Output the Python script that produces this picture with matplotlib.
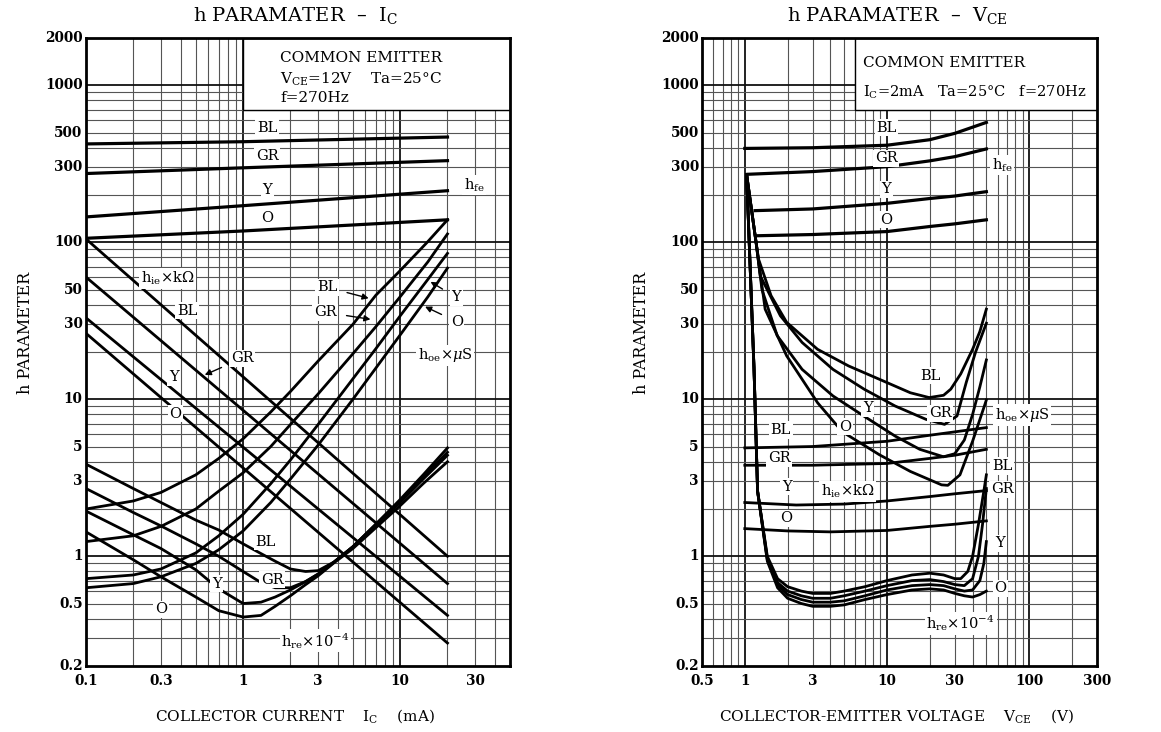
import numpy as np
import matplotlib.pyplot as plt
from matplotlib.patches import Rectangle
from matplotlib.ticker import NullFormatter, LogLocator

plt.rcParams['font.family'] = ['DejaVu Serif']
plt.rcParams['mathtext.fontset'] = 'dejavuserif'

# ---------------- left chart: h parameter vs Ic (Vce=12V) ----------------
ic_hfe = [0.1, 1, 20]
hfe_ic = {'BL': [423, 437, 468], 'GR': [274, 298, 331],
          'Y': [145, 171, 213], 'O': [106, 118, 139]}

ic_hie = [0.1, 20]
hie_ic = {'BL': [105, 1.0], 'GR': [60, 0.67], 'Y': [33, 0.42], 'O': [26.3, 0.28]}

ic_hoe = [0.1, 0.2, 0.3, 0.5, 0.7, 1, 1.5, 2, 3, 5, 7, 10, 15, 20]
hoe_ic = {'BL': [2.0, 2.25, 2.55, 3.3, 4.2, 5.6, 8.3, 11.2, 17.5, 30, 46, 66, 101, 139],
          'GR': [1.24, 1.35, 1.55, 2.0, 2.6, 3.4, 5.0, 6.9, 10.8, 19.5, 29, 45, 75, 113],
          'Y': [0.72, 0.76, 0.83, 1.05, 1.35, 1.85, 2.9, 4.1, 6.9, 13.5, 21, 34, 58, 85],
          'O': [0.63, 0.67, 0.74, 0.9, 1.1, 1.45, 2.2, 3.1, 5.1, 10, 15.8, 25.7, 44.9, 68.5]}

ic_hre = [0.1, 0.2, 0.3, 0.5, 0.7, 1.0, 1.3, 1.6, 2.0, 2.5, 3.0, 3.8, 5, 7, 10, 14, 20]
hre_ic = {'BL': [3.86, 2.7, 2.2, 1.7, 1.47, 1.2, 1.04, 0.93, 0.83, 0.8, 0.81, 0.92, 1.15, 1.6, 2.3, 3.3, 4.9],
          'GR': [2.7, 1.9, 1.56, 1.2, 1.0, 0.8, 0.68, 0.63, 0.63, 0.69, 0.77, 0.92, 1.15, 1.6, 2.25, 3.2, 4.6],
          'Y': [1.94, 1.37, 1.12, 0.82, 0.62, 0.5, 0.51, 0.55, 0.61, 0.69, 0.77, 0.92, 1.15, 1.58, 2.2, 3.1, 4.4],
          'O': [1.43, 0.95, 0.74, 0.55, 0.45, 0.41, 0.42, 0.48, 0.56, 0.66, 0.75, 0.91, 1.12, 1.52, 2.1, 2.9, 4.0]}

# ---------------- right chart: h parameter vs Vce (Ic=2mA) ----------------
vce_hfe = {'BL': [1.0, 3, 10, 20, 30, 50], 'GR': [1.05, 3, 10, 20, 30, 50],
           'Y': [1.18, 3, 10, 20, 30, 50], 'O': [1.2, 3, 10, 20, 30, 50]}
hfe_vce = {'BL': [396, 400, 415, 450, 494, 580], 'GR': [271, 282, 303, 330, 351, 393],
           'Y': [159, 163, 177, 190, 197, 210], 'O': [110, 112, 117, 126, 131, 139]}

vce_hie = {'BL': [1, 3, 10, 20, 30, 50], 'GR': [1, 3, 10, 20, 30, 50],
           'Y': [1, 2.3, 5, 10, 20, 30, 50], 'O': [1, 2, 4, 10, 20, 30, 50]}
hie_vce = {'BL': [4.9, 5.0, 5.4, 5.9, 6.2, 6.6], 'GR': [3.8, 3.8, 3.9, 4.2, 4.4, 4.8],
           'Y': [2.2, 2.12, 2.15, 2.25, 2.4, 2.5, 2.62], 'O': [1.5, 1.45, 1.43, 1.46, 1.55, 1.6, 1.68]}

vce_hoe = {'BL': [1.03, 1.2, 1.25, 1.53, 1.97, 3.25, 5.37, 8.85, 14.6, 19.8, 25, 28.1, 33, 40, 45, 50],
           'GR': [1.03, 1.2, 1.285, 1.78, 2.53, 4.17, 6.9, 11.4, 18.8, 25.4, 31.1, 36.1, 42, 50],
           'Y': [1.03, 1.2, 1.32, 1.69, 2.53, 4.17, 6.9, 11.4, 17, 25, 30, 35, 40, 45, 50],
           'O': [1.03, 1.2, 1.39, 1.97, 3.25, 4.86, 8.85, 14.6, 24.2, 26.8, 32.6, 40, 48.7, 50]}
hoe_vce = {'BL': [270, 100, 78, 45.7, 30.9, 20.8, 16.3, 13.4, 11.0, 10.25, 10.6, 11.6, 14.5, 20.8, 27, 37.5],
           'GR': [270, 100, 61, 34, 23, 15.5, 11.6, 9.06, 7.45, 6.92, 7.83, 12.8, 20, 30.5],
           'Y': [270, 100, 50, 25.4, 15.5, 10.5, 7.8, 5.83, 4.8, 4.3, 4.5, 5.5, 8.0, 12, 17.8],
           'O': [270, 100, 37.5, 18.9, 9.5, 6.2, 4.43, 3.47, 2.85, 2.83, 3.3, 5.4, 9.2, 9.9]}

vce_hre = {'BL': [1.03, 1.16, 1.23, 1.44, 1.7, 2, 2.5, 3, 4, 5, 7, 10, 15, 20, 25, 30, 33, 37, 40, 44, 48, 50],
           'GR': [1.03, 1.16, 1.23, 1.44, 1.7, 2, 2.5, 3, 4, 5, 7, 10, 15, 20, 25, 30, 35, 40, 44, 47, 50],
           'Y': [1.03, 1.16, 1.23, 1.44, 1.7, 2, 2.5, 3, 4, 5, 7, 10, 15, 20, 25, 30, 35, 40, 45, 48, 50],
           'O': [1.03, 1.16, 1.23, 1.44, 1.7, 2, 2.5, 3, 4, 5, 7, 10, 15, 20, 25, 30, 35, 40, 45, 50]}
hre_vce = {'BL': [270, 16, 2.6, 1.0, 0.72, 0.64, 0.6, 0.58, 0.58, 0.6, 0.64, 0.7, 0.76, 0.78, 0.76, 0.72, 0.72, 0.8, 1.0, 1.6, 2.6, 3.3],
           'GR': [270, 16, 2.6, 0.97, 0.68, 0.6, 0.56, 0.54, 0.54, 0.56, 0.6, 0.65, 0.7, 0.71, 0.69, 0.66, 0.65, 0.72, 1.0, 1.6, 2.7],
           'Y': [270, 16, 2.6, 0.95, 0.66, 0.57, 0.53, 0.51, 0.51, 0.52, 0.56, 0.61, 0.65, 0.66, 0.65, 0.62, 0.6, 0.61, 0.7, 0.9, 1.24],
           'O': [270, 16, 2.6, 0.93, 0.63, 0.54, 0.5, 0.48, 0.48, 0.49, 0.53, 0.57, 0.61, 0.62, 0.61, 0.58, 0.56, 0.55, 0.57, 0.6]}

y_ticks = [0.2, 0.5, 1, 3, 5, 10, 30, 50, 100, 300, 500, 1000, 2000]
y_ticklabels = ['0.2', '0.5', '1', '3', '5', '10', '30', '50', '100', '300', '500', '1000', '2000']
x_ticks_l = [0.1, 0.3, 1, 3, 10, 30]
x_ticklabels_l = ['0.1', '0.3', '1', '3', '10', '30']
x_ticks_r = [0.5, 1, 3, 10, 30, 100, 300]
x_ticklabels_r = ['0.5', '1', '3', '10', '30', '100', '300']

LW = 2.0
FS = 10.5
box = dict(facecolor='white', edgecolor='none', pad=1.2)


def setup(ax, xlim, xt, xtl):
    ax.set_xscale('log')
    ax.set_yscale('log')
    ax.set_xlim(*xlim)
    ax.set_ylim(0.2, 2000)
    ax.xaxis.set_major_locator(LogLocator(base=10, numticks=20))
    ax.xaxis.set_minor_locator(LogLocator(base=10, subs=np.arange(2, 10), numticks=50))
    ax.yaxis.set_major_locator(LogLocator(base=10, numticks=20))
    ax.yaxis.set_minor_locator(LogLocator(base=10, subs=np.arange(2, 10), numticks=50))
    for a in (ax.xaxis, ax.yaxis):
        a.set_major_formatter(NullFormatter())
        a.set_minor_formatter(NullFormatter())
    ax.grid(True, which='minor', color='#555555', lw=0.8)
    ax.grid(True, which='major', color='#111111', lw=1.3)
    ax.set_axisbelow(True)
    ax.tick_params(which='both', length=0)
    for s in ax.spines.values():
        s.set_linewidth(2)
    for v, t in zip(y_ticks, y_ticklabels):
        ax.text(-0.008, v, t, transform=ax.get_yaxis_transform(), ha='right', va='center',
                fontsize=9.8, fontweight='bold')
    for v, t in zip(xt, xtl):
        ax.text(v, -0.012, t, transform=ax.get_xaxis_transform(), ha='center', va='top',
                fontsize=9.8, fontweight='bold')


fig = plt.figure(figsize=(11.61, 7.32), dpi=100)
axL = fig.add_axes([86 / 1161, 66 / 732, 424 / 1161, 628 / 732])
axR = fig.add_axes([702 / 1161, 66 / 732, 395 / 1161, 628 / 732])

# ---------------- left ----------------
setup(axL, (0.1, 50), x_ticks_l, x_ticklabels_l)
axL.add_patch(Rectangle((1, 700), 49, 1300, facecolor='white', edgecolor='black', lw=1, zorder=1))
for k in ['BL', 'GR', 'Y', 'O']:
    axL.plot(ic_hfe, hfe_ic[k], color='black', lw=LW + 0.3, zorder=2)
    axL.plot(ic_hie, hie_ic[k], color='black', lw=LW, zorder=2)
    axL.plot(ic_hoe, hoe_ic[k], color='black', lw=LW, zorder=2)
    axL.plot(ic_hre, hre_ic[k], color='black', lw=LW, zorder=2)

txtL = [(1.42, 537, 'BL'), (1.42, 356, 'GR'), (1.42, 215, 'Y'), (1.42, 142, 'O'),
        (29.5, 231, r'h$_{\rm fe}$'), (0.33, 59, r'h$_{\rm ie}$$\times$k$\Omega$'),
        (0.44, 36.6, 'BL'), (0.362, 13.8, 'Y'), (0.37, 8.1, 'O'),
        (19.4, 19.1, r'h$_{\rm oe}$$\times\mu$S'),
        (1.39, 1.24, 'BL'), (1.53, 0.71, 'GR'), (0.68, 0.67, 'Y'), (0.30, 0.46, 'O'),
        (2.89, 0.29, r'h$_{\rm re}$$\times$10$^{-4}$')]
for x, y, t in txtL:
    axL.text(x, y, t, ha='center', va='center', fontsize=FS, bbox=box, zorder=3)

arrL = [('BL', (3.43, 51.6), (6.3, 44)), ('GR', (3.34, 35.8), (6.47, 32.3)),
        ('Y', (22.7, 44.6), (15.6, 56)), ('O', (22.9, 31.2), (14.4, 38.9)),
        ('GR', (0.985, 18.2), (0.57, 14.3))]
for t, xy_t, xy in arrL:
    axL.annotate(t, xy=xy, xytext=xy_t, ha='center', va='center', fontsize=FS, bbox=box, zorder=3,
                 arrowprops=dict(arrowstyle='-|>', color='black', lw=1.0, mutation_scale=9,
                                 shrinkA=6, shrinkB=0))

fig.text(280 / 1161, 1 - 58 / 732, 'COMMON EMITTER', fontsize=11, va='center', ha='left', zorder=4)
fig.text(280 / 1161, 1 - 79 / 732, r'V$_{\rm CE}$=12V    Ta=25°C', fontsize=11, va='center', ha='left', zorder=4)
fig.text(280 / 1161, 1 - 98 / 732, 'f=270Hz', fontsize=11, va='center', ha='left', zorder=4)

fig.text(295 / 1161, 1 - 16 / 732, r'h PARAMATER  –  I$_{\rm C}$', ha='center', va='center', fontsize=14)
fig.text(295 / 1161, 1 - 716 / 732, r'COLLECTOR CURRENT    I$_{\rm C}$    (mA)', ha='center', va='center', fontsize=11)
fig.text(25 / 1161, 1 - 333 / 732, 'h PARAMETER', rotation=90, ha='center', va='center', fontsize=11.5)

# ---------------- right ----------------
setup(axR, (0.5, 300), x_ticks_r, x_ticklabels_r)
axR.add_patch(Rectangle((6, 700), 294, 1300, facecolor='white', edgecolor='black', lw=1, zorder=1))
for k in ['BL', 'GR', 'Y', 'O']:
    axR.plot(vce_hfe[k], hfe_vce[k], color='black', lw=LW + 0.3, zorder=2)
    axR.plot(vce_hie[k], hie_vce[k], color='black', lw=LW, zorder=2)
    axR.plot(vce_hoe[k], hoe_vce[k], color='black', lw=LW, zorder=2)
    axR.plot(vce_hre[k], hre_vce[k], color='black', lw=LW, zorder=2)

txtR = [(9.9, 537, 'BL'), (9.9, 343, 'GR'), (9.9, 217, 'Y'), (9.9, 139, 'O'),
        (64.7, 310, r'h$_{\rm fe}$'),
        (20.3, 14.1, 'BL'), (7.3, 8.75, 'Y'), (23.6, 8.14, 'GR'), (5.07, 6.68, 'O'),
        (89.4, 7.94, r'h$_{\rm oe}$$\times\mu$S'),
        (1.79, 6.37, 'BL'), (1.74, 4.2, 'GR'), (1.97, 2.77, 'Y'), (1.97, 1.75, 'O'),
        (5.27, 2.58, r'h$_{\rm ie}$$\times$k$\Omega$'),
        (64.7, 3.76, 'BL'), (64.7, 2.67, 'GR'), (62.9, 1.21, 'Y'), (62.9, 0.625, 'O'),
        (33, 0.374, r'h$_{\rm re}$$\times$10$^{-4}$')]
for x, y, t in txtR:
    axR.text(x, y, t, ha='center', va='center', fontsize=FS, bbox=box, zorder=3)

fig.text(863 / 1161, 1 - 63 / 732, 'COMMON EMITTER', fontsize=11, va='center', ha='left', zorder=4)
fig.text(863 / 1161, 1 - 92 / 732, r'I$_{\rm C}$=2mA   Ta=25°C   f=270Hz', fontsize=10.5, va='center', ha='left', zorder=4)

fig.text(897 / 1161, 1 - 16 / 732, r'h PARAMATER  –  V$_{\rm CE}$', ha='center', va='center', fontsize=14)
fig.text(897 / 1161, 1 - 716 / 732, r'COLLECTOR-EMITTER VOLTAGE    V$_{\rm CE}$    (V)', ha='center', va='center', fontsize=11)
fig.text(642 / 1161, 1 - 333 / 732, 'h PARAMETER', rotation=90, ha='center', va='center', fontsize=11.5)

fig.savefig('out.png', dpi=100)
